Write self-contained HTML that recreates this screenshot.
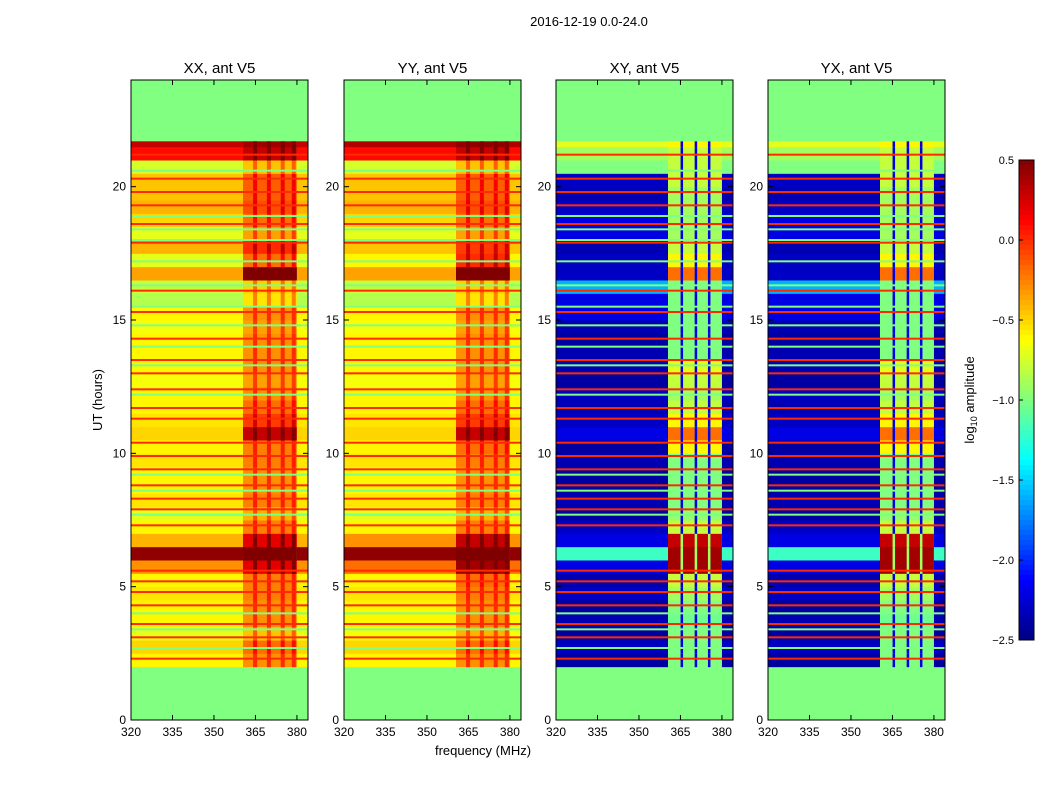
<!DOCTYPE html>
<html><head><meta charset="utf-8"><style>
body{margin:0;background:#fff;font-family:"Liberation Sans",sans-serif;}
svg text{font-family:"Liberation Sans",sans-serif;fill:#000}
</style></head><body>
<svg id="fig" width="1050" height="800" viewBox="0 0 1050 800" xmlns="http://www.w3.org/2000/svg">
<rect width="1050" height="800" fill="#fff"/>
<text x="589" y="26" font-size="13" text-anchor="middle">2016-12-19 0.0-24.0</text>
<text x="483" y="755" font-size="13" text-anchor="middle">frequency (MHz)</text>
<text transform="translate(102,400) rotate(-90)" font-size="13" text-anchor="middle">UT (hours)</text>
<text transform="translate(974,400) rotate(-90)" font-size="13" text-anchor="middle">log<tspan font-size="9" dy="3">10</tspan><tspan dy="-3"> amplitude</tspan></text>
<g id="panels"></g>
<g id="cbar"></g>
</svg>
<script>
// time bins start at 2.0 h, 0.5 h each (last bin ends at 21.7)
const binStarts=[2.0,2.5,3.0,3.5,4.0,4.5,5.0,5.5,6.0,6.5,7.0,7.5,8.0,8.5,9.0,9.5,10.0,10.5,11.0,11.5,12.0,12.5,13.0,13.5,14.0,14.5,15.0,15.5,16.0,16.5,17.0,17.5,18.0,18.5,19.0,19.5,20.0,20.5,21.0,21.5];
const xxOut=[-0.6,-0.5,-0.7,-0.6,-0.6,-0.55,-0.6,-0.3,0.45,-0.4,-0.6,-0.7,-0.55,-0.6,-0.6,-0.55,-0.6,-0.5,-0.55,-0.6,-0.6,-0.65,-0.6,-0.6,-0.6,-0.65,-0.6,-0.85,-0.8,-0.35,-0.7,-0.4,-0.7,-0.5,-0.4,-0.45,-0.45,-0.75,0.1,0.3];
const xxBand=[0.3,0.3,0.25,0.3,0.3,0.3,0.35,0.5,0.3,0.6,0.35,0.3,0.3,0.3,0.3,0.3,0.35,0.8,0.5,0.4,0.3,0.3,0.3,0.3,0.3,0.3,0.3,0.3,0.3,0.9,0.5,0.4,0.35,0.3,0.3,0.3,0.3,0.3,0.2,0.1];
const yyOut=[-0.6,-0.5,-0.65,-0.6,-0.6,-0.55,-0.6,-0.2,0.45,-0.3,-0.6,-0.7,-0.55,-0.6,-0.6,-0.55,-0.6,-0.5,-0.55,-0.6,-0.6,-0.65,-0.6,-0.6,-0.6,-0.65,-0.6,-0.85,-0.8,-0.35,-0.6,-0.45,-0.7,-0.5,-0.4,-0.45,-0.45,-0.75,0.1,0.35];
const yyBand=[0.3,0.3,0.25,0.3,0.3,0.3,0.4,0.6,0.2,0.6,0.35,0.3,0.3,0.3,0.3,0.3,0.4,0.8,0.5,0.4,0.3,0.3,0.3,0.3,0.3,0.3,0.3,0.3,0.3,0.9,0.6,0.4,0.35,0.3,0.3,0.3,0.3,0.3,0.2,0.1];
const xyOut=[-2.4,-2.3,-2.4,-2.35,-2.4,-2.3,-2.35,-2.2,-1.2,-2.2,-2.3,-2.4,-2.35,-2.4,-2.4,-2.35,-2.4,-2.2,-2.3,-2.35,-2.3,-2.4,-2.35,-2.35,-2.4,-2.35,-2.2,-2.2,-1.6,-2.3,-2.3,-2.35,-2.2,-2.2,-2.3,-2.35,-2.3,-1.0,-0.9,-0.7];
const xyBand=[-1.0,-1.0,-1.0,-1.05,-1.0,-0.9,-0.8,0.4,0.4,0.3,-0.8,-0.95,-1.0,-1.0,-1.0,-1.0,-0.6,-0.2,-0.6,-0.8,-0.9,-0.8,-0.7,-1.0,-1.0,-1.0,-1.0,-1.0,-1.0,-0.2,-0.6,-0.8,-0.9,-0.9,-0.9,-0.9,-0.8,-0.8,-0.8,-0.6];
const yxOut=[-2.4,-2.3,-2.4,-2.35,-2.4,-2.3,-2.35,-2.2,-1.2,-2.2,-2.3,-2.4,-2.35,-2.4,-2.4,-2.35,-2.4,-2.2,-2.3,-2.35,-2.3,-2.4,-2.35,-2.35,-2.4,-2.35,-2.2,-2.2,-1.6,-2.3,-2.3,-2.35,-2.2,-2.2,-2.3,-2.35,-2.3,-1.0,-0.9,-0.7];
const yxBand=[-1.0,-1.0,-1.0,-1.05,-1.0,-0.9,-0.8,0.4,0.4,0.3,-0.8,-0.95,-1.0,-1.0,-1.0,-1.0,-0.6,-0.2,-0.6,-0.8,-0.9,-0.8,-0.7,-1.0,-1.0,-1.0,-1.0,-1.0,-1.0,-0.2,-0.6,-0.8,-0.9,-0.9,-0.9,-0.9,-0.8,-0.8,-0.8,-0.6];
const redLines=[2.3,3.1,3.6,4.3,4.8,5.2,5.6,7.3,7.9,8.3,8.8,9.4,9.9,10.4,11.3,11.7,12.4,13.0,13.5,14.3,15.3,16.1,17.9,18.6,19.3,19.8,20.3,21.2];
const greenLines=[2.7,3.4,4.0,7.7,8.6,9.2,12.2,13.3,14.0,14.8,15.5,16.3,17.2,18.0,18.4,18.9,20.6];
const bandPar=[360.5,380], bandCross=[360.5,380];
const stripesPar=[364.5,369.5,374.5,378.5], stripesCross=[365.4,370.5,375.3];
const xTicks=[320,335,350,365,380], yTicks=[0,5,10,15,20];
const cbTicks=[0.5,0.0,-0.5,-1.0,-1.5,-2.0,-2.5];
const panels=[
 {name:'xx',title:'XX, ant V5',x0:131,out:xxOut,band:xxBand,cross:false},
 {name:'yy',title:'YY, ant V5',x0:344,out:yyOut,band:yyBand,cross:false},
 {name:'xy',title:'XY, ant V5',x0:556,out:xyOut,band:xyBand,cross:true},
 {name:'yx',title:'YX, ant V5',x0:768,out:yxOut,band:yxBand,cross:true}];
const W=177,Y0=80,Y1=720,FMIN=320,FMAX=384,NS='http://www.w3.org/2000/svg';
const vmin=-2.5,vmax=0.5;
function jet(v){let t=(v-vmin)/(vmax-vmin);t=Math.max(0,Math.min(1,t));
 const f=x=>Math.max(0,Math.min(1,x));
 const r=f(1.5-Math.abs(4*t-3)),g=f(1.5-Math.abs(4*t-2)),b=f(1.5-Math.abs(4*t-1));
 return `rgb(${Math.round(r*255)},${Math.round(g*255)},${Math.round(b*255)})`;}
const yS=h=>Y1-(h/24)*(Y1-Y0);
function mk(tag,attrs,parent){const e=document.createElementNS(NS,tag);for(const k in attrs)e.setAttribute(k,attrs[k]);parent.appendChild(e);return e;}
const root=document.getElementById('panels');
panels.forEach(p=>{
 const xS=f=>p.x0+(f-FMIN)/(FMAX-FMIN)*W;
 const g=mk('g',{},root);
 
 
 const bg=mk('rect',{x:p.x0,y:Y0,width:W,height:Y1-Y0,fill:jet(-1.0)},g);
 
 
 const band=p.cross?bandCross:bandPar, stripes=p.cross?stripesCross:stripesPar;
 binStarts.forEach((t,i)=>{
  const t1=i<binStarts.length-1?binStarts[i+1]:21.7;
  const y=yS(t1),h=yS(t)-yS(t1);
  let r=mk('rect',{x:xS(FMIN),y:y,width:xS(band[0])-xS(FMIN),height:h+0.5,fill:jet(p.out[i])},g);
  
  
  const bv=p.cross?p.band[i]:p.out[i]+p.band[i];
  r=mk('rect',{x:xS(band[0]),y:y,width:xS(band[1])-xS(band[0]),height:h+0.5,fill:jet(bv)},g);
  
  
  r=mk('rect',{x:xS(band[1]),y:y,width:p.x0+W-xS(band[1]),height:h+0.5,fill:jet(p.out[i])},g);
  
  
  stripes.forEach(s=>{
   const sv=p.cross?(p.band[i]>0?-0.9:-2.2):Math.min(0.5,bv+0.3);
   const sr=mk('rect',{x:xS(s)-1,y:y,width:p.cross?2.5:4,height:h+0.5,fill:jet(sv)},g);
   
   
  });
 });
 greenLines.forEach(t=>{const l=mk('rect',{x:p.x0,y:yS(t)-1,width:W,height:2,fill:jet(-1.0)},g);
  
  });
 redLines.forEach(t=>{const l=mk('rect',{x:p.x0,y:yS(t)-1,width:W,height:2,fill:jet(0.0)},g);
  
  });
 const fr=mk('rect',{x:p.x0,y:Y0,width:W,height:Y1-Y0,fill:'none',stroke:'#000','stroke-width':1},g);
 
 
 const tt=mk('text',{x:p.x0+W/2,y:73,'font-size':15,'text-anchor':'middle'},g);tt.textContent=p.title;
 
 
 xTicks.forEach(f=>{const x=xS(f);
  mk('line',{x1:x,x2:x,y1:Y1,y2:Y1-5,stroke:'#000'},g);mk('line',{x1:x,x2:x,y1:Y0,y2:Y0+5,stroke:'#000'},g);
  const lb=mk('text',{x:x,y:Y1+16,'font-size':12,'text-anchor':'middle'},g);lb.textContent=f;
  
  });
 yTicks.forEach(h=>{const y=yS(h);
  mk('line',{x1:p.x0,x2:p.x0+5,y1:y,y2:y,stroke:'#000'},g);mk('line',{x1:p.x0+W,x2:p.x0+W-5,y1:y,y2:y,stroke:'#000'},g);
  const lb=mk('text',{x:p.x0-5,y:y+4,'font-size':12,'text-anchor':'end'},g);lb.textContent=h;
  
  });
});
// colorbar
const cb=document.getElementById('cbar');
const CX=1019,CW=15,CT=160,CB=640;
const cS=v=>CT+(vmax-v)/(vmax-vmin)*(CB-CT);
for(let i=0;i<96;i++){const v=vmax-(i+0.5)*(vmax-vmin)/96;
 const r=mk('rect',{x:CX,y:CT+i*(CB-CT)/96,width:CW,height:(CB-CT)/96+0.5,fill:jet(v)},cb);
 
 }
const cf=mk('rect',{x:CX,y:CT,width:CW,height:CB-CT,fill:'none',stroke:'#000'},cb);


cbTicks.forEach(v=>{const y=cS(v);
 mk('line',{x1:CX,x2:CX+4,y1:y,y2:y,stroke:'#000'},cb);
 const lb=mk('text',{x:CX-5,y:y+4,'font-size':11,'text-anchor':'end'},cb);lb.textContent=(v<0?'\u2212':'')+Math.abs(v).toFixed(1);
 
 });
</script>
</body></html>
